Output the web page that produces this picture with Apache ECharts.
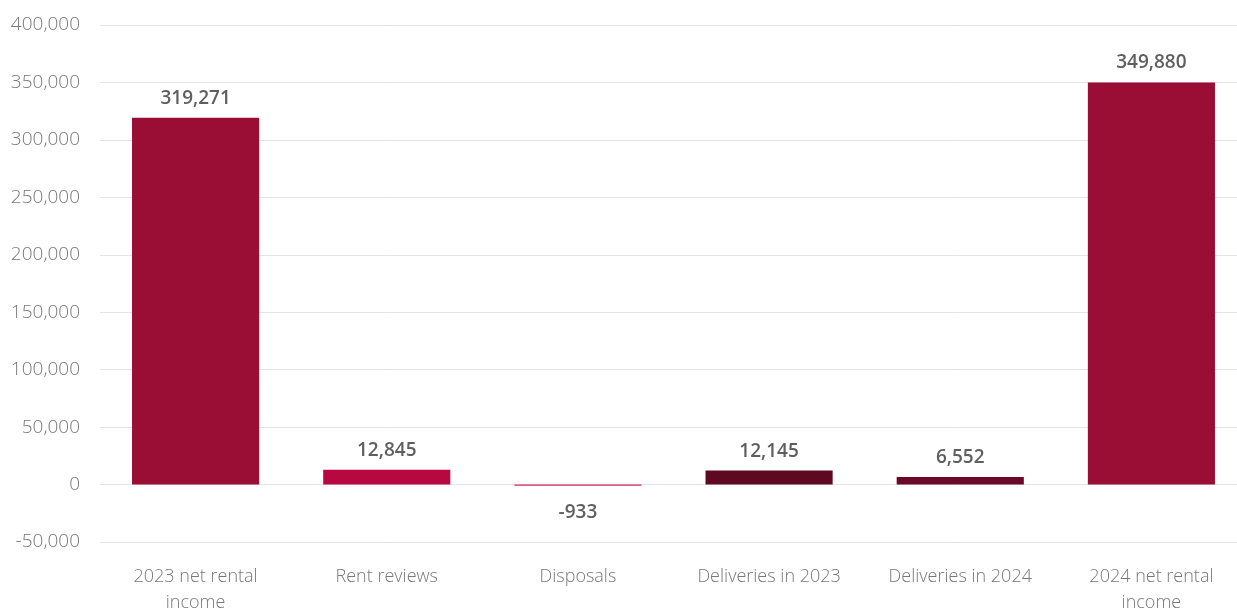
<!DOCTYPE html>
<html>
<head>
<meta charset="utf-8">
<script src="https://cdn.jsdelivr.net/npm/echarts@6/dist/echarts.min.js"></script>
<style>
  html, body { margin: 0; padding: 0; background: #fff; }
  #chart { width: 1237px; height: 609px; }
</style>
</head>
<body>
<div id="chart"></div>
<script>
// Net rental income bridge, 2023 to 2024
const categories = ['2023 net rental\nincome', 'Rent reviews', 'Disposals', 'Deliveries in 2023', 'Deliveries in 2024', '2024 net rental\nincome'];
const values = [319271, 12845, -933, 12145, 6552, 349880];
const barColors = ['#9A0D35', '#B70842', '#D7245A', '#5E0822', '#6B0727', '#9A0D35'];
const yTicks = { min: -50000, max: 400000, interval: 50000 };

const chart = echarts.init(document.getElementById('chart'));

const fmt = v => v.toLocaleString('en-US');
const font = '"Open Sans", Roboto, sans-serif';

chart.setOption({
  animation: false,
  textStyle: { fontFamily: font },
  grid: { left: 100, top: 25, width: 1147, height: 517, containLabel: false, outerBoundsMode: 'none' },
  xAxis: {
    type: 'category',
    data: categories,
    axisLine: { show: false, onZero: false },
    axisTick: { show: false },
    axisLabel: { interval: 0, hideOverlap: false, color: '#787878', fontSize: 18, lineHeight: 26, margin: 22, fontFamily: font, fontWeight: 300 }
  },
  yAxis: {
    type: 'value',
    min: yTicks.min,
    max: yTicks.max,
    interval: yTicks.interval,
    axisLine: { show: false },
    axisTick: { show: false },
    splitLine: { lineStyle: { color: '#e4e4e4', width: 1 } },
    axisLabel: { color: '#787878', fontSize: 19, margin: 20, fontFamily: font, fontWeight: 300, formatter: v => fmt(v) }
  },
  series: [{
    type: 'bar',
    barCategoryGap: '33.5%',
    data: values.map((v, i) => ({
      value: v,
      itemStyle: { color: barColors[i] },
      label: v < 0 ? { position: 'bottom', distance: 17 } : { position: 'top', distance: 10 }
    })),
    label: {
      show: true,
      color: '#5f5f5f',
      fontSize: 19,
      fontWeight: 600,
      fontFamily: font,
      formatter: p => fmt(p.value)
    }
  }]
});
</script>
</body>
</html>
